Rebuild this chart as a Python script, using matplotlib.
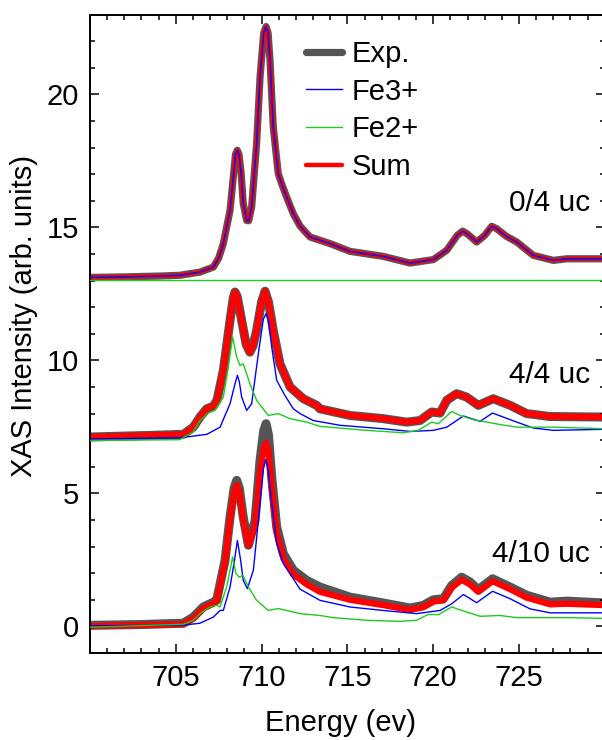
import matplotlib
matplotlib.use('Agg')
import matplotlib.pyplot as plt
from matplotlib.ticker import MultipleLocator, FixedLocator
import numpy as np

plt.rcParams['font.family'] = ['Liberation Sans', 'DejaVu Sans']

# ---- 0/4 uc (Exp = Sum = Fe3+, Fe2+ flat) ----
E_top = [700.0, 702.0, 704.0, 705.24, 706.41, 707.19, 707.5, 707.77, 708.16, 708.35,
         708.48, 708.58, 708.68, 708.8, 708.93, 709.13, 709.25, 709.42, 709.71, 709.91,
         710.12, 710.26, 710.38, 710.49, 710.68, 710.97, 711.17, 711.46, 711.85, 712.24,
         712.82, 713.99, 715.15, 717.09, 718.65, 720.01, 720.79, 721.4, 721.72, 722.0,
         722.53, 723.0, 723.41, 723.7, 724.28, 724.87, 725.83, 727.0, 727.78, 730.0]
exp_top = [13.12, 13.14, 13.17, 13.2, 13.32, 13.51, 13.85, 14.39, 15.64, 16.89,
           17.75, 17.9, 17.75, 17.1, 15.9, 15.26, 15.25, 15.76, 18.15, 20.65,
           22.3, 22.55, 22.3, 21.28, 18.77, 17.02, 16.64, 16.14, 15.51, 15.05,
           14.64, 14.39, 14.10, 13.91, 13.66, 13.79, 14.14, 14.7, 14.86, 14.75,
           14.45, 14.7, 15.04, 14.95, 14.66, 14.45, 13.95, 13.76, 13.82, 13.82]
fe2_top_E = [700.0, 730.0]
fe2_top = [13.03, 13.03]

# ---- 4/4 uc ----
E_mid = [700.0, 703.5, 705.44, 706.02, 706.41, 706.8, 707.19, 707.4, 707.77, 708.16,
         708.35, 708.45, 708.58, 708.84, 709.1, 709.32, 709.5, 709.71, 710.0, 710.2,
         710.4, 710.68, 711.07, 711.66, 712.43, 713.21, 713.4, 715.15, 717.09, 718.45,
         719.23, 719.91, 720.4, 720.79, 721.37, 721.95, 722.63, 723.5, 724.48, 725.45,
         726.81, 730.0]
exp_mid = [7.12, 7.18, 7.22, 7.49, 7.87, 8.18, 8.28, 8.5, 9.62, 11.5,
           12.35, 12.57, 12.4, 11.5, 10.6, 10.31, 10.55, 11.13, 12.2, 12.6,
           12.2, 11.13, 9.87, 9.0, 8.56, 8.31, 8.18, 7.93, 7.81, 7.68,
           7.74, 8.06, 8.02, 8.5, 8.75, 8.62, 8.31, 8.56, 8.31, 8.0,
           7.89, 7.87]
sum_mid = exp_mid

fe3_mid_E = [700.0, 705.24, 706.8, 707.58, 708.16, 708.45, 708.59, 708.7, 708.84, 709.13,
             709.42, 709.81, 710.1, 710.26, 710.4, 710.59, 710.88, 711.36, 711.85, 712.24,
             713.01, 714.57, 717.09, 718.65, 720.01, 720.79, 721.76, 722.73, 723.46, 724.87,
             725.83, 727.0, 730.0]
fe3_mid = [7.05, 7.09, 7.22, 7.49, 8.37, 9.12, 9.44, 9.2, 8.62, 8.12,
           8.37, 10.25, 11.55, 11.76, 11.5, 10.5, 9.25, 8.68, 8.18, 8.0,
           7.74, 7.56, 7.43, 7.33, 7.37, 7.49, 7.91, 7.71, 8.02, 7.68,
           7.46, 7.37, 7.41]

fe2_mid_E = [700.0, 705.24, 706.02, 706.41, 706.89, 707.28, 707.77, 708.06, 708.31, 708.55,
             708.74, 708.93, 709.32, 709.71, 710.39, 710.97, 711.66, 712.63, 713.4, 716.12,
             718.26, 719.13, 719.91, 720.3, 721.08, 721.56, 722.34, 723.89, 724.87, 727.0,
             730.0]
fe2_mid = [6.99, 7.02, 7.31, 7.74, 8.02, 8.12, 8.62, 9.75, 10.88, 10.12,
           9.81, 9.87, 9.12, 8.5, 7.93, 8.0, 7.81, 7.68, 7.52, 7.37,
           7.28, 7.37, 7.68, 7.62, 8.08, 7.93, 7.77, 7.59, 7.49, 7.49,
           7.43]

# ---- 4/10 uc ----
E_bot = [700.0, 703.0, 705.44, 706.02, 706.6, 707.19, 707.38, 707.87, 708.16, 708.4,
         708.55, 708.7, 708.93, 709.23, 709.62, 709.91, 710.12, 710.26, 710.4, 710.59,
         710.88, 711.27, 711.85, 712.63, 713.4, 715.15, 717.09, 718.65, 719.42, 720.01,
         720.59, 721.08, 721.66, 722.14, 722.63, 723.46, 724.48, 725.45, 726.81, 727.78,
         730.0]
exp_bot = [0.04, 0.07, 0.12, 0.35, 0.73, 0.91, 0.98, 2.48, 4.11, 5.2,
           5.49, 5.2, 4.11, 3.05, 3.98, 6.24, 7.35, 7.62, 7.2, 5.61,
           3.73, 2.73, 2.11, 1.73, 1.48, 1.1, 0.88, 0.69, 0.79, 1.0,
           1.04, 1.54, 1.85, 1.67, 1.38, 1.79, 1.48, 1.17, 0.91, 0.95,
           0.88]
sum_bot = [0.02, 0.05, 0.08, 0.3, 0.68, 0.86, 0.95, 2.4, 4.0, 5.05,
           5.32, 5.05, 4.0, 3.05, 3.8, 5.8, 6.7, 6.9, 6.6, 5.2,
           3.5, 2.55, 1.95, 1.58, 1.3, 1.0, 0.8, 0.62, 0.72, 0.93,
           0.98, 1.46, 1.75, 1.58, 1.3, 1.7, 1.4, 1.08, 0.83, 0.85,
           0.8]

fe3_bot_E = [700.0, 705.5, 706.41, 707.19, 707.58, 707.77, 708.16, 708.39, 708.59, 708.78,
             708.93, 709.17, 709.52, 709.87, 710.1, 710.24, 710.38, 710.53, 710.88, 711.27,
             711.66, 712.24, 713.4, 715.15, 717.09, 719.03, 720.4, 721.08, 721.76, 722.53,
             723.46, 724.48, 725.64, 726.81, 730.0]
fe3_bot = [0.02, 0.05, 0.12, 0.35, 0.6, 0.6, 1.48, 2.36, 3.23, 2.48,
           1.73, 1.42, 2.11, 4.36, 5.9, 6.27, 5.9, 4.99, 3.11, 2.36,
           1.98, 1.4, 0.98, 0.73, 0.6, 0.48, 0.6, 0.85, 1.2, 0.89,
           1.32, 1.04, 0.66, 0.51, 0.51]

fe2_bot_E = [700.0, 705.44, 706.02, 706.41, 706.99, 707.38, 707.58, 707.96, 708.16, 708.31,
             708.51, 708.7, 708.9, 709.23, 709.71, 710.39, 710.97, 711.85, 712.24, 713.4,
             714.18, 716.12, 718.07, 719.03, 719.71, 720.3, 721.08, 721.76, 722.73, 723.89,
             724.87, 727.78, 730.0]
fe2_bot = [-0.03, 0.08, 0.23, 0.48, 0.73, 0.79, 0.73, 1.48, 2.11, 2.61,
           1.98, 1.85, 1.92, 1.48, 0.98, 0.6, 0.67, 0.54, 0.48, 0.41,
           0.33, 0.23, 0.19, 0.23, 0.45, 0.44, 0.73, 0.58, 0.38, 0.41,
           0.33, 0.33, 0.30]

panel_labels = ['0/4 uc', '4/4 uc', '4/10 uc']
label_y = [15.9, 9.44, 2.74]

gray = '#555555'
red = '#ff0000'
blue = '#0000ff'
green = '#1ccc1c'

fig = plt.figure(figsize=(6.02, 7.40), dpi=100)
ax = fig.add_axes([90/602, 87/740, 514.8/602, 638.4/740])

# top panel
ax.plot(E_top, exp_top, color=gray, lw=5.2, solid_capstyle='round', zorder=1)
ax.plot(E_top, exp_top, color=red, lw=3, zorder=2)
ax.plot(E_top, exp_top, color=blue, lw=1, zorder=3)
ax.plot(fe2_top_E, fe2_top, color=green, lw=1, zorder=4)

# middle panel
ax.plot(E_mid, exp_mid, color=gray, lw=6.5, zorder=1)
ax.plot(E_mid, sum_mid, color=red, lw=4.5, zorder=2)
ax.plot(fe3_mid_E, fe3_mid, color=blue, lw=1, zorder=3)
ax.plot(fe2_mid_E, fe2_mid, color=green, lw=1, zorder=4)

# bottom panel
ax.plot(E_bot, exp_bot, color=gray, lw=6.5, zorder=1)
ax.plot(E_bot, sum_bot, color=red, lw=4.5, zorder=2)
ax.plot(fe3_bot_E, fe3_bot, color=blue, lw=1, zorder=3)
ax.plot(fe2_bot_E, fe2_bot, color=green, lw=1, zorder=4)

for lab, ly in zip(panel_labels, label_y):
    ax.text(729.15, ly, lab, ha='right', va='center', fontsize=21.5)

# legend handles
h_exp, = ax.plot([], [], color=gray, lw=5.2, solid_capstyle='round')
h_fe3, = ax.plot([], [], color=blue, lw=1)
h_fe2, = ax.plot([], [], color=green, lw=1)
h_sum, = ax.plot([], [], color=red, lw=3.2, solid_capstyle='round')
leg = fig.legend([h_exp, h_fe3, h_fe2, h_sum], ['Exp.', 'Fe3+', 'Fe2+', 'Sum'],
                 loc='upper left', bbox_to_anchor=(306/602, 1 - 40/740),
                 frameon=False, fontsize=21, handlelength=1.25, handletextpad=0.3,
                 labelspacing=0.33, borderpad=0, borderaxespad=0)

ax.set_xlim(700, 730)
ax.set_ylim(-1, 23)
ax.xaxis.set_major_locator(FixedLocator([705, 710, 715, 720, 725]))
ax.xaxis.set_minor_locator(MultipleLocator(1))
ax.yaxis.set_major_locator(MultipleLocator(5))
ax.yaxis.set_minor_locator(MultipleLocator(1))
ax.tick_params(which='both', direction='in', top=True, right=True, width=1.1, labelsize=21)
ax.tick_params(which='major', length=6.5, pad=8)
ax.tick_params(which='minor', length=3.6)
for s in ax.spines.values():
    s.set_linewidth(1.4)

ax.set_xlabel('Energy (ev)', fontsize=21, labelpad=12)
ax.set_ylabel('XAS Intensity (arb. units)', fontsize=21, labelpad=6)
ax.xaxis.label.set_x(0.486)
ax.yaxis.label.set_y(0.528)

fig.savefig('out.png', dpi=100)
